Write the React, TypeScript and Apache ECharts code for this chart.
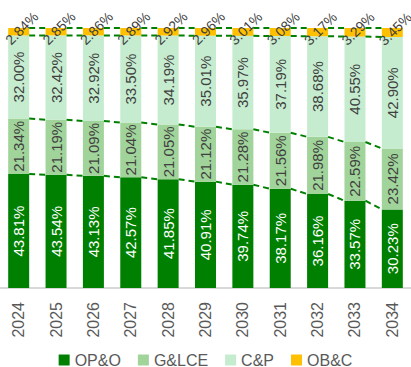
import React, { useEffect, useRef } from "react";
import * as echarts from "echarts";

const years = ["2024", "2025", "2026", "2027", "2028", "2029", "2030", "2031", "2032", "2033", "2034"];
const opo = [43.81, 43.54, 43.13, 42.57, 41.85, 40.91, 39.74, 38.17, 36.16, 33.57, 30.23];
const glce = [21.34, 21.19, 21.09, 21.04, 21.05, 21.12, 21.28, 21.56, 21.98, 22.59, 23.42];
const cp = [32.0, 32.42, 32.92, 33.5, 34.19, 35.01, 35.97, 37.19, 38.68, 40.55, 42.9];
const obc = [2.84, 2.85, 2.86, 2.89, 2.92, 2.96, 3.01, 3.08, 3.17, 3.29, 3.45];

const BAR_W = 21;
const FONT = "'Liberation Sans', Arial, sans-serif";

export default function App() {
  const ref = useRef<HTMLDivElement>(null);
  useEffect(() => {
    document.body.style.margin = "0";
    const chart = echarts.init(ref.current!, null, { renderer: "svg" });
    const c1 = opo.map((v) => v);
    const c2 = opo.map((v, i) => v + glce[i]);
    const c3 = opo.map((v, i) => v + glce[i] + cp[i]);
    const c4 = opo.map((v, i) => v + glce[i] + cp[i] + obc[i]);
    const levels = [c1, c2, c3, c4];
    const lineData: number[][] = [];
    levels.forEach((lv) => {
      for (let i = 0; i < years.length - 1; i++) lineData.push([i, lv[i], lv[i + 1]]);
    });
    const fmt = (p: any) => Number(p.value).toFixed(2) + "%";
    const inLabel = (color: string) => ({
      show: true,
      position: "inside",
      rotate: 90,
      fontSize: 15,
      color,
      fontFamily: FONT,
      formatter: fmt,
    });
    chart.setOption({
      animation: false,
      grid: { left: -2.4, right: -2.4, top: 28, bottom: 79, containLabel: false },
      legend: {
        top: 347,
        left: "center",
        itemWidth: 11,
        itemHeight: 11,
        itemGap: 17,
        icon: "rect",
        textStyle: { fontSize: 16, color: "#595959", fontFamily: FONT },
        data: ["OP&O", "G&LCE", "C&P", "OB&C"],
      },
      xAxis: {
        type: "category",
        data: years,
        axisTick: { show: false },
        axisLine: { lineStyle: { color: "#d9d9d9", width: 2 } },
        axisLabel: { rotate: 90, fontSize: 16, color: "#595959", margin: 14, fontFamily: FONT },
      },
      yAxis: { type: "value", min: 0, max: 100, show: false, splitLine: { show: false } },
      series: [
        { name: "OP&O", type: "bar", stack: "s", barWidth: BAR_W, data: opo, itemStyle: { color: "#008000" }, label: inLabel("#ffffff") },
        { name: "G&LCE", type: "bar", stack: "s", barWidth: BAR_W, data: glce, itemStyle: { color: "#a1d49a" }, label: inLabel("#404040") },
        { name: "C&P", type: "bar", stack: "s", barWidth: BAR_W, data: cp, itemStyle: { color: "#c6eccf" }, label: inLabel("#404040") },
        {
          name: "OB&C",
          type: "bar",
          stack: "s",
          barWidth: BAR_W,
          data: obc,
          itemStyle: { color: "#ffc000" },
          label: {
            show: true,
            position: "inside",
            rotate: 45,
            fontSize: 14,
            color: "#404040",
            fontFamily: FONT,
            offset: [4.6, -0.4],
            formatter: fmt,
          },
        },
        {
          type: "custom",
          z: 5,
          data: lineData,
          encode: { x: 0, y: 1 },
          renderItem: (params: any, api: any) => {
            const i = api.value(0);
            const p1 = api.coord([i, api.value(1)]);
            const p2 = api.coord([i + 1, api.value(2)]);
            return {
              type: "line",
              shape: { x1: p1[0] + BAR_W / 2, y1: p1[1], x2: p2[0] - BAR_W / 2, y2: p2[1] },
              style: { stroke: "#008000", lineWidth: 2, lineDash: [6, 4] },
            };
          },
        },
      ],
    });
    return () => chart.dispose();
  }, []);
  return <div ref={ref} style={{ width: 411, height: 367 }} />;
}
